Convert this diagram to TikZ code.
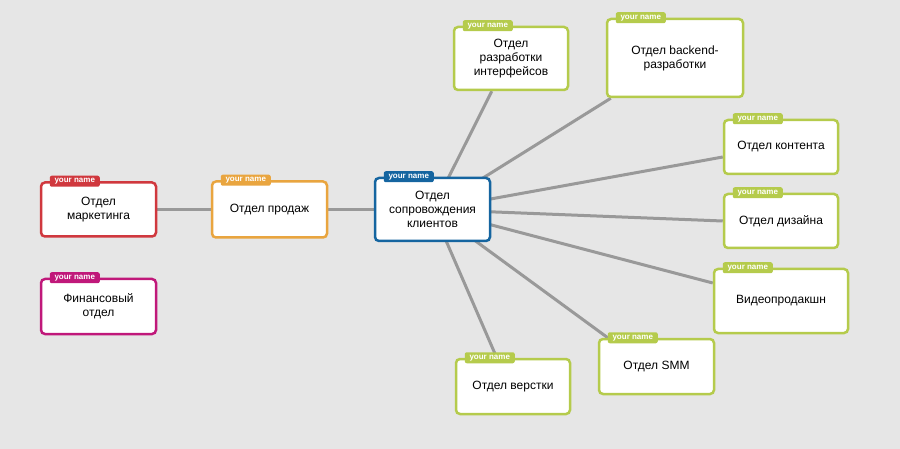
\documentclass[tikz,border=0pt]{standalone}
\usepackage{fontspec}
\setmainfont{Liberation Sans}
\usetikzlibrary{backgrounds,calc}

\definecolor{mred}{HTML}{D0383E}
\definecolor{morange}{HTML}{E9A53F}
\definecolor{mblue}{HTML}{1565A0}
\definecolor{mmagenta}{HTML}{C0187A}
\definecolor{mgreen}{HTML}{B5CB4C}
\definecolor{linkgray}{HTML}{999999}
\definecolor{paper}{HTML}{E6E6E6}

\begin{document}
\begin{tikzpicture}[
    x=1pt, y=-1pt,
    dept/.style={draw=#1, line width=2.5pt, fill=white, rounded corners=4pt, align=center,
                 font=\fontsize{12}{14}\selectfont, inner sep=2pt},
    nametag/.style={fill=#1, rounded corners=2pt, text=white, inner sep=0pt,
                    minimum width=50pt, minimum height=11pt, font=\fontsize{8}{8}\selectfont\bfseries},
    link/.style={draw=linkgray, line width=3pt}
]
    % left branch
    \node[dept=mred,     minimum width=115pt, minimum height=54pt] (marketing)  at (98.5,209.5)  {Отдел\\маркетинга};
    \node[dept=morange,  minimum width=115pt, minimum height=56pt] (sales)      at (269.5,209.5) {Отдел продаж};
    \node[dept=mblue,    minimum width=115pt, minimum height=63pt] (clients)    at (432.5,209.5) {Отдел\\сопровождения\\клиентов};
    \node[dept=mmagenta, minimum width=115pt, minimum height=55pt] (finance)    at (98.5,306.5) {Финансовый\\отдел};

    % right branch
    \node[dept=mgreen, minimum width=114pt, minimum height=63pt] (interfaces) at (511,58.5)  {Отдел\\разработки\\интерфейсов};
    \node[dept=mgreen, minimum width=136pt, minimum height=78pt] (backend)    at (675,58)    {Отдел backend-\\разработки};
    \node[dept=mgreen, minimum width=114pt, minimum height=54pt] (content)    at (781,147)   {Отдел контента};
    \node[dept=mgreen, minimum width=114pt, minimum height=54pt] (design)     at (781,221)   {Отдел дизайна};
    \node[dept=mgreen, minimum width=134pt, minimum height=64pt] (video)      at (781,301)   {Видеопродакшн};
    \node[dept=mgreen, minimum width=115pt, minimum height=55pt] (smm)        at (656.5,366.5) {Отдел SMM};
    \node[dept=mgreen, minimum width=114pt, minimum height=55pt] (layout)     at (513,386.5) {Отдел верстки};

    % name tags
    \foreach \n/\c in {marketing/mred, sales/morange, clients/mblue, finance/mmagenta,
                       interfaces/mgreen, backend/mgreen, content/mgreen, design/mgreen,
                       video/mgreen, smm/mgreen, layout/mgreen}
        \node[nametag=\c] (\n-tag) at ($(\n.north west)+(35,0)$) {your name};

    \begin{scope}[on background layer]
        \fill[paper] (0,0) rectangle (900,449);
        \draw[link] (marketing) -- (sales);
        \draw[link] (sales) -- (clients);
        \draw[link] (clients.center) -- ($(interfaces.south west)+(39,0)$);
        \draw[link] (clients.center) -- ($(backend.south west)+(5,0)$);
        \draw[link] (clients.center) -- ($(content.west)+(0,10)$);
        \draw[link] (clients.center) -- (design.west);
        \draw[link] (clients.center) -- ($(video.west)+(0,-18)$);
        \draw[link] (clients.center) -- ($(smm.north west)+(10,0)$);
        \draw[link] (clients.center) -- ($(layout.north west)+(42,0)$);
    \end{scope}
\end{tikzpicture}
\end{document}
